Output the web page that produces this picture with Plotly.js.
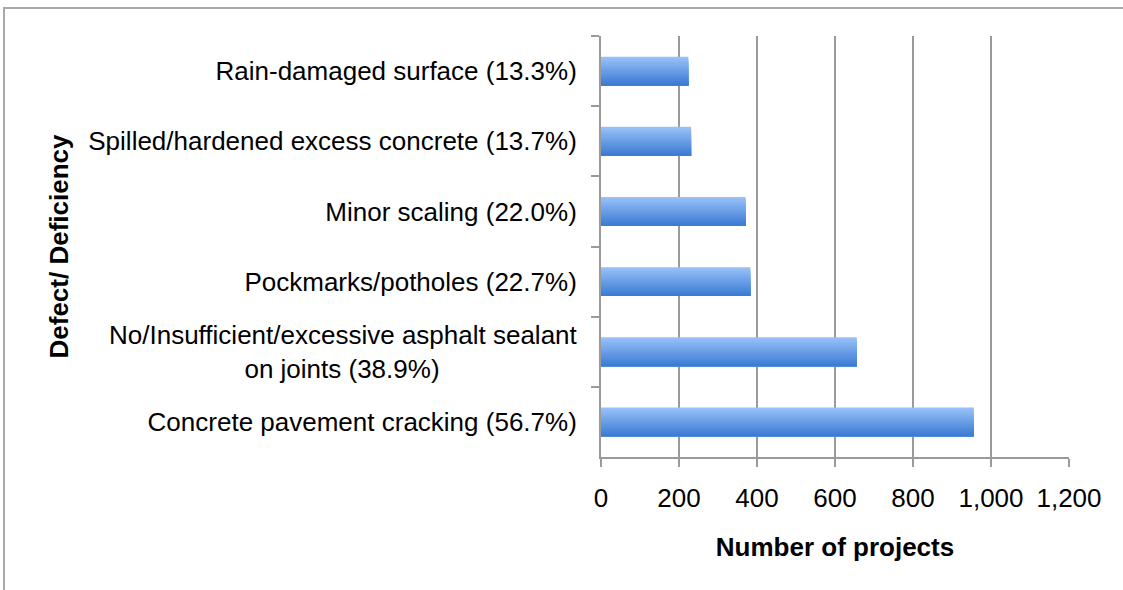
<!DOCTYPE html>
<html>
<head>
<meta charset="utf-8">
<script src="https://cdn.plot.ly/plotly-3.0.1.min.js"></script>
<style>
html,body{margin:0;padding:0;background:#fff;overflow:hidden;}
#wrap{position:relative;width:1123px;height:590px;}
#chart{width:1123px;height:590px;}
#frame{position:absolute;left:3px;top:7px;width:2000px;height:2000px;border-left:2px solid #a9a9a9;border-top:2px solid #a9a9a9;pointer-events:none;}
</style>
</head>
<body>
<div id="wrap"><div id="chart"></div><div id="frame"></div></div>
<script>
// Data (top to bottom as shown)
const categories = [
  "Rain-damaged surface (13.3%)",
  "Spilled/hardened excess concrete (13.7%)",
  "Minor scaling (22.0%)",
  "Pockmarks/potholes (22.7%)",
  "No/Insufficient/excessive asphalt sealant<br>on joints (38.9%)",
  "Concrete pavement cracking (56.7%)"
];
const projects = [224, 231, 371, 383, 656, 956];
const xTickVals = [0, 200, 400, 600, 800, 1000, 1200];
const xTickText = ["0", "200", "400", "600", "800", "1,000", "1,200"];

// pad second line of the two-line label so it looks centred
const padded = categories.map(c => {
  const parts = c.split("<br>");
  if (parts.length < 2) return c;
  return parts[0] + "<br>" + parts[1] + "\u00a0".repeat(19);
});

// gradient effect: overlapping slices of the same bars (light top -> darker bottom)
const slices = 14;
const barWidth = 0.41;
const colTop = [150, 192, 247];
const colBot = [60, 124, 212];
const traces = [];
for (let i = 0; i < slices; i++) {
  const t = i / (slices - 1);
  const c = colTop.map((v, k) => Math.round(v + (colBot[k] - v) * t));
  const off = -barWidth / 2 + i * barWidth / slices;
  traces.push({
    type: "bar",
    orientation: "h",
    y: padded,
    x: projects,
    width: barWidth / 2 - off,
    offset: off,
    marker: {color: `rgb(${c[0]},${c[1]},${c[2]})`, line: {width: 0}},
    hoverinfo: "skip",
    showlegend: false
  });
}

const fam = "Liberation Sans, Arial, sans-serif";
const fs = 26;
const layout = {
  width: 1123, height: 590,
  margin: {l: 601, r: 54, t: 36, b: 133, pad: 0},
  paper_bgcolor: "#fff", plot_bgcolor: "#fff",
  barmode: "overlay",
  font: {family: fam, size: fs, color: "#000"},
  showlegend: false,
  xaxis: {
    range: [0, 1200],
    tickvals: xTickVals, ticktext: xTickText,
    showgrid: true, gridcolor: "#9a9a9a", gridwidth: 2,
    showline: true, linecolor: "#9a9a9a", linewidth: 2,
    ticks: "outside", ticklen: 8, tickcolor: "#9a9a9a", tickwidth: 2,
    tickfont: {family: fam, size: fs, color: "#000"},
    ticklabelstandoff: 9,
    zeroline: false, fixedrange: true,
    title: {text: "<b>Number of projects</b>", font: {family: fam, size: fs, color: "#000"}, standoff: 26}
  },
  yaxis: {
    autorange: "reversed",
    type: "category",
    showgrid: false,
    showline: true, linecolor: "#9a9a9a", linewidth: 2,
    ticks: "outside", ticklen: 8, tickcolor: "#9a9a9a", tickwidth: 2,
    tickson: "boundaries",
    tickfont: {family: fam, size: fs, color: "#000"},
    ticklabelstandoff: 17,
    zeroline: false, fixedrange: true,
    title: {text: "<b>Defect/ Deficiency</b>", font: {family: fam, size: fs, color: "#000"}, standoff: 12}
  }
};
Plotly.newPlot("chart", traces, layout, {staticPlot: true, displayModeBar: false});
</script>
</body>
</html>
